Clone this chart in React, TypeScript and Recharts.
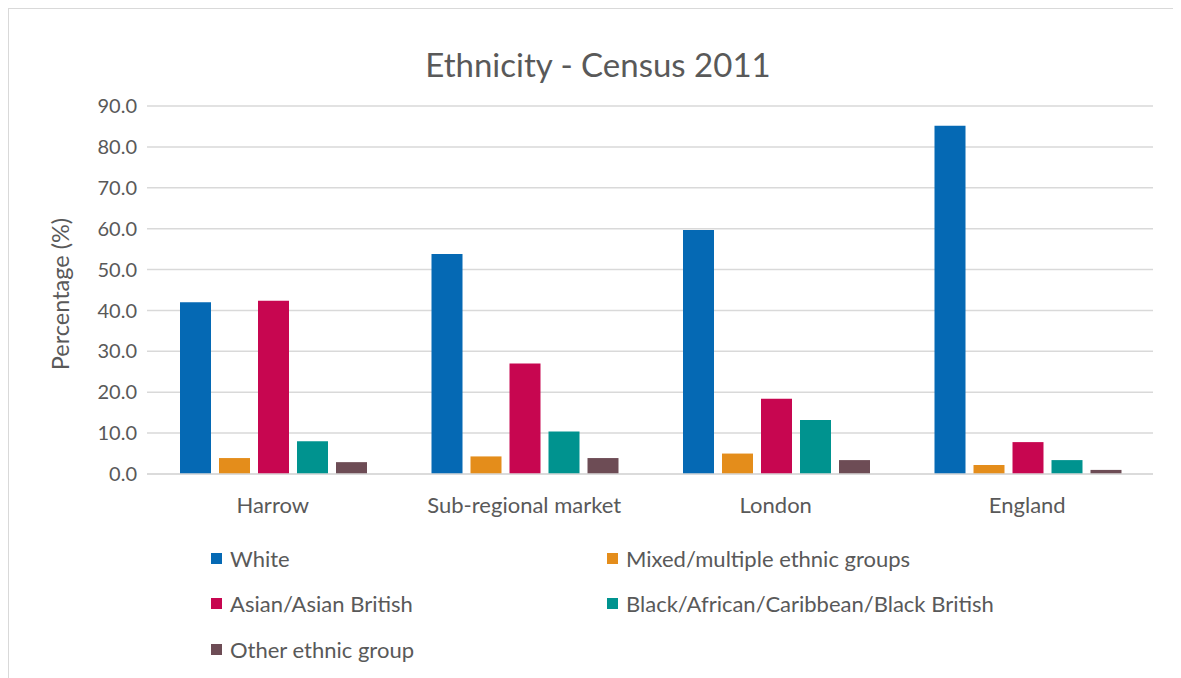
import { Bar, BarChart, CartesianGrid, XAxis, YAxis } from "recharts";

const categories = ["Harrow", "Sub-regional market", "London", "England"];
const white = [42.0, 53.8, 59.7, 85.2];
const mixed = [3.9, 4.3, 5.0, 2.2];
const asian = [42.4, 27.0, 18.4, 7.8];
const black = [8.0, 10.4, 13.2, 3.4];
const other = [2.9, 3.9, 3.4, 1.0];
const yTicks = [0, 10, 20, 30, 40, 50, 60, 70, 80, 90];

const series = [
  { key: "white", name: "White", color: "#0569b4", values: white },
  { key: "mixed", name: "Mixed/multiple ethnic groups", color: "#e48d1b", values: mixed },
  { key: "asian", name: "Asian/Asian British", color: "#c70650", values: asian },
  { key: "black", name: "Black/African/Caribbean/Black British", color: "#00938f", values: black },
  { key: "other", name: "Other ethnic group", color: "#6d4c55", values: other },
];

const data = categories.map((c, i) => {
  const row: Record<string, string | number> = { category: c };
  series.forEach((s) => {
    row[s.key] = s.values[i];
  });
  return row;
});

const FONT = "Lato, 'Open Sans', sans-serif";
const TEXT = "#595959";

export default function App() {
  return (
    <div
      style={{
        position: "relative",
        width: 1167,
        height: 680,
        boxSizing: "border-box",
        border: "1px solid #d9d9d9",
        background: "#fff",
        fontFamily: FONT,
      }}
    >
      <style>{`html,body{overflow:hidden}`}</style>
      <div
        style={{
          position: "absolute",
          left: 589,
          top: 37,
          transform: "translateX(-50%)",
          fontSize: 33,
          lineHeight: "36px",
          color: TEXT,
          whiteSpace: "nowrap",
        }}
      >
        Ethnicity - Census 2011
      </div>
      <BarChart
        width={1165}
        height={670}
        data={data}
        margin={{ top: 97, right: 21, left: 0, bottom: 165 }}
        barCategoryGap={33}
        barGap={8}
      >
        <CartesianGrid vertical={false} stroke="#d9d9d9" strokeWidth={1.5} />
        <XAxis
          dataKey="category"
          height={40}
          tickLine={false}
          axisLine={{ stroke: "#d9d9d9", strokeWidth: 1.5 }}
          tickMargin={17}
          tick={{ fill: TEXT, fontSize: 22, fontFamily: FONT }}
        />
        <YAxis
          width={138}
          domain={[0, 90]}
          ticks={yTicks}
          tickFormatter={(v: number) => v.toFixed(1)}
          tickLine={false}
          axisLine={false}
          tickMargin={4}
          tick={{ fill: TEXT, fontSize: 20, fontFamily: FONT }}
          label={{
            content: () => (
              <text
                x={51}
                y={285}
                transform="rotate(-90 51 285)"
                textAnchor="middle"
                dominantBaseline="central"
                fill={TEXT}
                fontSize={23.5}
                fontFamily={FONT}
              >
                Percentage (%)
              </text>
            ),
          }}
        />
        {series.map((s) => (
          <Bar key={s.key} dataKey={s.key} name={s.name} fill={s.color} isAnimationActive={false} />
        ))}
      </BarChart>
      {series.map((s, i) => {
        const col = i % 2;
        const row = Math.floor(i / 2);
        return (
          <div
            key={s.key}
            style={{
              position: "absolute",
              left: col === 0 ? 202 : 598,
              top: 538 + row * 45.5,
              height: 22,
              display: "flex",
              alignItems: "center",
              fontSize: 22,
              color: TEXT,
              whiteSpace: "nowrap",
            }}
          >
            <span style={{ width: 11, height: 11, background: s.color, marginRight: 8, display: "inline-block" }} />
            {s.name}
          </div>
        );
      })}
    </div>
  );
}
